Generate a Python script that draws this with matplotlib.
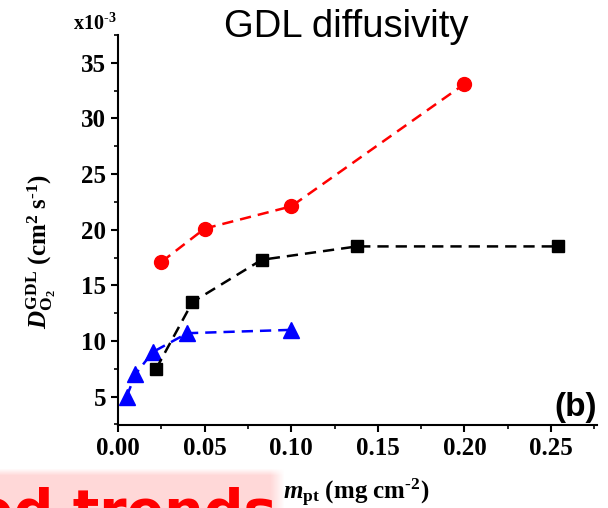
import numpy as np
import matplotlib
matplotlib.use("Agg")
import matplotlib.pyplot as plt
from matplotlib.ticker import MultipleLocator

plt.rcParams["font.family"] = ["Liberation Serif", "DejaVu Serif"]
plt.rcParams["font.weight"] = "bold"
plt.rcParams["mathtext.fontset"] = "custom"
plt.rcParams["mathtext.rm"] = "Liberation Serif:bold"
plt.rcParams["mathtext.bf"] = "Liberation Serif:bold"
plt.rcParams["mathtext.it"] = "Liberation Serif:italic:bold"

# Pt loading (mg cm^-2) vs GDL O2 diffusivity (x1e-3 cm^2 s^-1)
circle_pt = [0.025, 0.05, 0.10, 0.20]
circle_diff = [17.1, 20.1, 22.1, 33.1]

square_pt = [0.022, 0.043, 0.083, 0.138, 0.254]
square_diff = [7.5, 13.5, 17.3, 18.5, 18.5]

triangle_pt = [0.005, 0.010, 0.020, 0.040, 0.100]
triangle_diff = [5.0, 7.0, 9.0, 10.7, 11.0]

W, H = 608, 508
fig = plt.figure(figsize=(W / 100, H / 100), dpi=100)
ax = fig.add_axes([118 / W, 1 - 425 / H, 479 / W, 390 / H])

dash = (4.5, 2.8)
ax.plot(circle_pt, circle_diff, color="#ff0000", lw=1.8, dashes=dash,
        marker="o", ms=10, zorder=3)
ax.plot(square_pt, square_diff, color="black", lw=1.8, dashes=dash,
        marker="s", ms=9, zorder=3)
ax.plot(triangle_pt, triangle_diff, color="#0000ff", lw=1.8, dashes=dash,
        marker="^", ms=11, zorder=2)

ax.set_xlim(0, 0.2765)
ax.set_ylim(2.45, 37.5)
ax.xaxis.set_major_locator(MultipleLocator(0.05))
ax.xaxis.set_minor_locator(MultipleLocator(0.025))
ax.yaxis.set_major_locator(MultipleLocator(5))
ax.yaxis.set_minor_locator(MultipleLocator(2.5))
ax.xaxis.set_major_formatter(lambda v, p: f"{v:.2f}")
ax.yaxis.set_major_formatter(lambda v, p: f"{v:.0f}")

for side in ("top", "right"):
    ax.spines[side].set_visible(False)
for side in ("left", "bottom"):
    ax.spines[side].set_linewidth(1.5)
ax.tick_params(which="major", direction="out", length=5, width=1.5,
               labelsize=18, pad=3.5)
ax.tick_params(which="minor", direction="out", length=3, width=1.2)

ax.set_ylabel("$\\mathit{D}_{\\mathrm{O_2}}^{\\mathrm{GDL}}$ (cm$^{2}$ s$^{\u2010 1}$)",
              fontsize=18, fontweight="bold")
ax.yaxis.set_label_coords(-0.125, 0.444)
ax.set_xlabel("$\\mathit{m}_{\\mathrm{pt}}$ (mg cm$^{\u2010 2}$)",
              fontsize=18, fontweight="bold")
ax.xaxis.label.set_verticalalignment("baseline")
ax.xaxis.set_label_coords(0.497, -0.192)

fig.text(73 / W, 1 - 30 / H, "x10$^{\u2010 3}$", fontsize=14.5, fontweight="bold",
         ha="left", va="baseline")
fig.text(346 / W, 1 - 37 / H, "GDL diffusivity", fontsize=27.5,
         family="Liberation Sans", fontweight="normal",
         ha="center", va="baseline")
fig.text(597 / W, 1 - 416 / H, "(b)", fontsize=24, family="Liberation Sans",
         fontweight="bold", ha="right", va="baseline")

# pink banner strip along the bottom edge with soft edges
bh, bw = 40, 285
band = fig.add_axes([0, 0, bw / W, bh / H], zorder=-1)
fade_top = np.clip(np.arange(bh) / 7.0, 0, 1)[:, None]
fade_right = np.clip((bw - 1 - np.arange(bw)) / 14.0, 0, 1)[None, :]
rgba = np.zeros((bh, bw, 4))
rgba[..., 0] = 1.0
rgba[..., 1] = 0.85
rgba[..., 2] = 0.85
rgba[..., 3] = fade_top * fade_right
band.imshow(rgba, aspect="auto", interpolation="bilinear")
band.axis("off")

fig.text(277 / W, 1 - 529 / H, "ed trends", fontsize=40, color="#ff0000",
         family="DejaVu Sans", fontweight="bold", ha="right", va="baseline")

fig.savefig("out.png", dpi=100)
